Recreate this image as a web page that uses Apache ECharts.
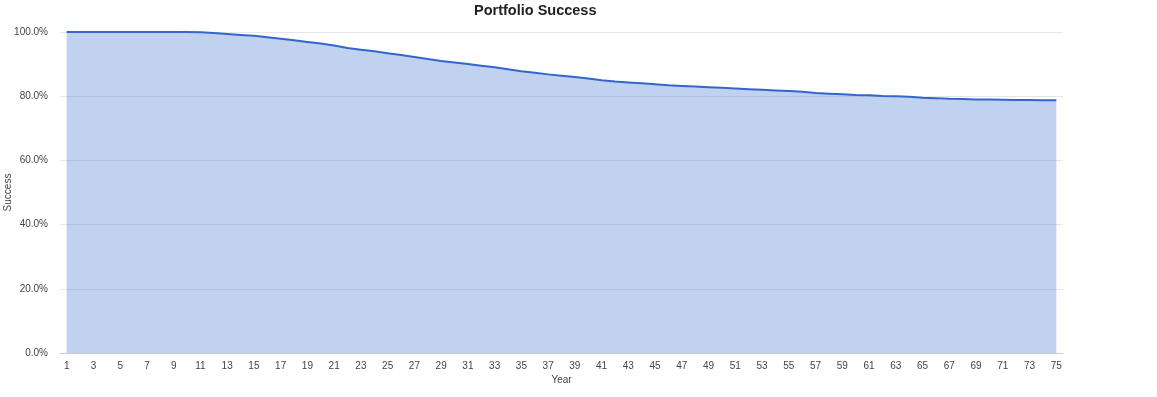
<!DOCTYPE html>
<html>
<head>
<meta charset="utf-8">
<script src="https://cdn.jsdelivr.net/npm/echarts@6/dist/echarts.min.js"></script>
<style>html,body{margin:0;padding:0;background:#fff}#c{width:1157px;height:397px}</style>
</head>
<body>
<div id="c"></div>
<script>
var years = [];
for (var i = 1; i <= 75; i++) years.push(String(i));
var successPct = [
  100, 100, 100, 100, 100, 100, 100, 100, 100, 100,
  99.9, 99.7, 99.4, 99.1, 98.8, 98.4, 97.9, 97.4, 96.9, 96.4,
  95.8, 95.0, 94.5, 94.0, 93.4, 92.8, 92.2, 91.6, 91.0, 90.5,
  90.0, 89.5, 89.0, 88.4, 87.8, 87.3, 86.8, 86.4, 86.0, 85.5,
  85.0, 84.6, 84.3, 84.0, 83.7, 83.4, 83.2, 83.0, 82.8, 82.6,
  82.4, 82.2, 82.0, 81.8, 81.6, 81.4, 81.0, 80.8, 80.6, 80.4,
  80.3, 80.1, 80.0, 79.8, 79.5, 79.4, 79.2, 79.1, 79.0, 78.95,
  78.9, 78.85, 78.8, 78.75, 78.7
];
var yTicks = [0, 20, 40, 60, 80, 100];

var font = 'Arial, "Liberation Sans", sans-serif';
var chart = echarts.init(document.getElementById('c'));
chart.setOption({
  animation: false,
  title: {
    text: 'Portfolio Success',
    left: 469, top: -2,
    textStyle: { fontFamily: font, fontSize: 14.5, fontWeight: 'bold', color: '#222' }
  },
  grid: { left: 60, right: 94, top: 32, bottom: 44, containLabel: false, outerBoundsMode: 'none' },
  xAxis: {
    type: 'category',
    data: years,
    boundaryGap: true,
    name: 'Year',
    nameLocation: 'middle',
    nameGap: 22,
    nameMoveOverlap: false,
    nameTextStyle: { fontFamily: font, fontSize: 10, color: '#444' },
    axisLine: { lineStyle: { color: '#cccccc' } },
    axisTick: { show: false },
    axisLabel: { interval: 1, margin: 8, fontFamily: font, fontSize: 10, color: '#444' }
  },
  yAxis: {
    type: 'value',
    min: yTicks[0], max: yTicks[yTicks.length - 1], interval: 20,
    name: 'Success',
    nameLocation: 'middle',
    nameGap: 47,
    nameMoveOverlap: false,
    nameTextStyle: { fontFamily: font, fontSize: 10, color: '#444' },
    axisLine: { show: false },
    axisTick: { show: false },
    axisLabel: { margin: 12, padding: [3, 0, 0, 0], fontFamily: font, fontSize: 10, color: '#444',
      formatter: function (v) { return v.toFixed(1) + '%'; } },
    splitLine: { lineStyle: { color: '#e6e6e6' } }
  },
  series: [{
    type: 'line',
    data: successPct,
    showSymbol: false,
    symbol: 'none',
    lineStyle: { color: '#3366cc', width: 2 },
    areaStyle: { color: '#3366cc', opacity: 0.3 }
  }]
});
</script>
</body>
</html>
